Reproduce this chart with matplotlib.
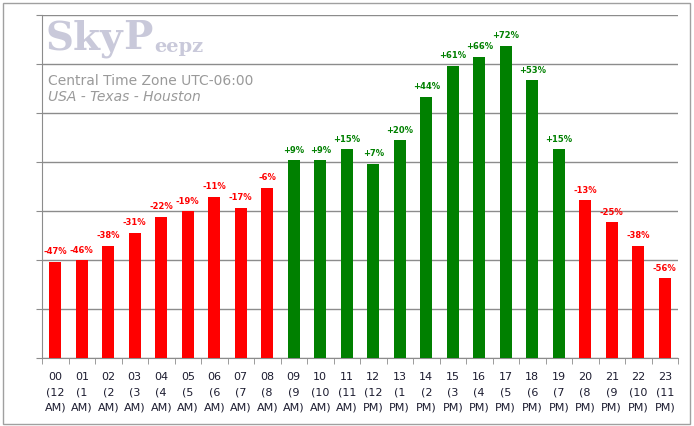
import numpy as np
import matplotlib.pyplot as plt
from matplotlib.patches import Rectangle

#  ############################# Data ##########################################

pct_change = [-47, -46, -38, -31, -22, -19, -11, -17, -6, 9, 9, 15,
              7, 20, 44, 61, 66, 72, 53, 15, -13, -25, -38, -56]

hour_labels = ["00\n(12\nAM)", "01\n(1\nAM)", "02\n(2\nAM)", "03\n(3\nAM)",
               "04\n(4\nAM)", "05\n(5\nAM)", "06\n(6\nAM)", "07\n(7\nAM)",
               "08\n(8\nAM)", "09\n(9\nAM)", "10\n(10\nAM)", "11\n(11\nAM)",
               "12\n(12\nPM)", "13\n(1\nPM)", "14\n(2\nPM)", "15\n(3\nPM)",
               "16\n(4\nPM)", "17\n(5\nPM)", "18\n(6\nPM)", "19\n(7\nPM)",
               "20\n(8\nPM)", "21\n(9\nPM)", "22\n(10\nPM)", "23\n(11\nPM)"]

title_1 = "Central Time Zone UTC-06:00"
title_2 = "USA - Texas - Houston"

#  ############################# Plot parameters ##############################

W, H = 694, 426
RED = "#ff0000"
GREEN = "#008000"
GRID = "#8c8c8c"
TEXT_GRAY = "#9a9a9a"
LOGO = "#c9c9da"

fig = plt.figure(figsize=(W / 100, H / 100), dpi=100)
ax = fig.add_axes([42 / W, (H - 358.3) / H, 636 / W, 343.3 / H])

#  ################################ Ploting ###################################

x = np.arange(len(pct_change))
heights = 100 + np.array(pct_change)
colors = [GREEN if p > 0 else RED for p in pct_change]

ax.bar(x, heights, width=0.45, color=colors, zorder=3)

for xi, h, p, c in zip(x, heights, pct_change, colors):
    ax.annotate("%+d%%" % p, (xi, h), xytext=(0, 4),
                textcoords="offset points", ha="center", va="bottom",
                fontsize=6, fontweight="bold", color=c)

ax.set_xlim(-0.5, len(x) - 0.5)
ax.set_ylim(0, 189)
ax.set_yticks(np.arange(0, 190, 27))
ax.set_yticklabels([])
ax.grid(axis="y", color=GRID, linewidth=1, zorder=0)

ax.set_xticks(x)
ax.set_xticklabels(hour_labels, fontsize=8, color="#1c1c30", linespacing=1.65)
ax.set_xticks(np.arange(-0.5, len(x), 1), minor=True)
ax.tick_params(axis="x", which="major", length=0, pad=10)
ax.tick_params(axis="x", which="minor", length=4, color=GRID)
ax.tick_params(axis="y", length=4, color=GRID)

for s in ["top", "right"]:
    ax.spines[s].set_visible(False)
for s in ["left", "bottom"]:
    ax.spines[s].set_color(GRID)

# logo and titles
def px(xp, yp):
    return xp / W, 1 - yp / H

fig.text(*px(45, 49), "Sky", fontsize=28, fontweight="bold",
         family="DejaVu Serif", color=LOGO, va="baseline")
fig.text(*px(123, 49), "P", fontsize=28, fontweight="bold",
         family="DejaVu Serif", color=LOGO, va="baseline")
fig.text(*px(154, 52), "eepz", fontsize=14, fontweight="bold",
         family="DejaVu Serif", color=LOGO, va="baseline")

fig.text(*px(48, 81), title_1, fontsize=10, color=TEXT_GRAY, va="center")
fig.text(*px(48, 97), title_2, fontsize=10, color=TEXT_GRAY,
         style="italic", va="center")

fig.patches.append(Rectangle((3 / W, 2 / H), 687 / W, 421 / H,
                             transform=fig.transFigure, fill=False,
                             edgecolor="#a0a0a0", linewidth=1))

plt.savefig("out.png", dpi=100)
